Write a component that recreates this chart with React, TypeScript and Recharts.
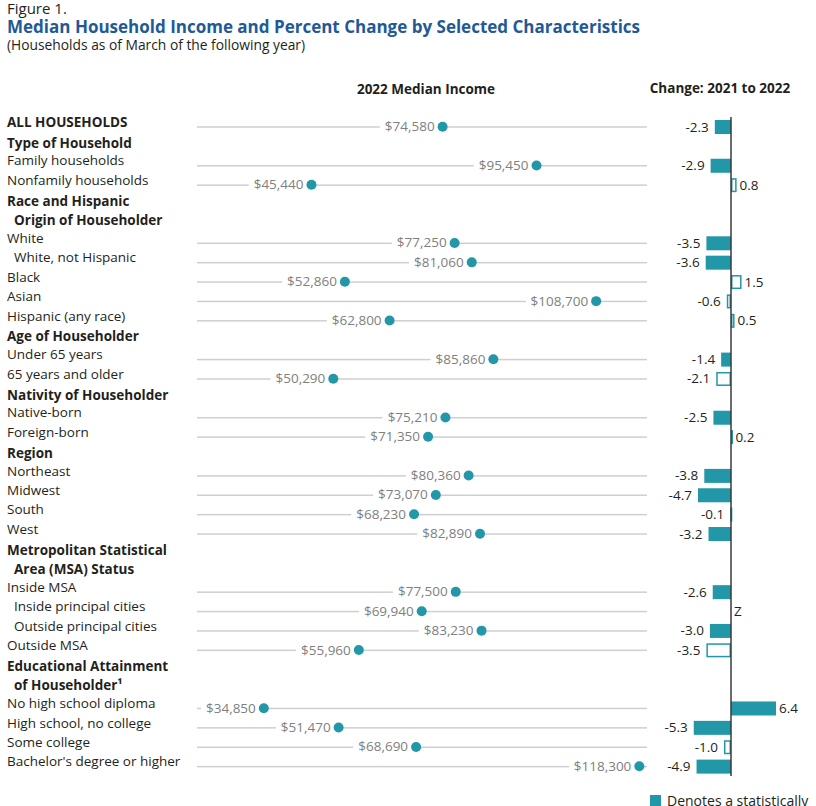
import React from "react";
import { ComposedChart, Bar, Line, XAxis, YAxis, ReferenceLine } from "recharts";

// row labels, top to bottom; kind: h = header, hi = indented header, d = data, db = bold data, di = indented data
const ROWS = [
  "ALL HOUSEHOLDS", "Type of Household", "Family households", "Nonfamily households",
  "Race and Hispanic", "Origin of Householder", "White", "White, not Hispanic", "Black", "Asian",
  "Hispanic (any race)", "Age of Householder", "Under 65 years", "65 years and older",
  "Nativity of Householder", "Native-born", "Foreign-born", "Region", "Northeast", "Midwest",
  "South", "West", "Metropolitan Statistical", "Area (MSA) Status", "Inside MSA",
  "Inside principal cities", "Outside principal cities", "Outside MSA", "Educational Attainment",
  "of Householder\u00b9", "No high school diploma", "High school, no college", "Some college",
  "Bachelor's degree or higher",
];
const KINDS = [
  "db", "h", "d", "d",
  "h", "hi", "d", "di", "d", "d",
  "d", "h", "d", "d",
  "h", "d", "d", "h", "d", "d",
  "d", "d", "h", "hi", "d",
  "di", "di", "d", "h",
  "hi", "d", "d", "d",
  "d",
];
// values for the data rows only, in order
const INCOME = [
  74580, 95450, 45440, 77250, 81060, 52860, 108700, 62800, 85860, 50290, 75210, 71350,
  80360, 73070, 68230, 82890, 77500, 69940, 83230, 55960, 34850, 51470, 68690, 118300,
];
const CHANGE: (number | string)[] = [
  -2.3, -2.9, 0.8, -3.5, -3.6, 1.5, -0.6, 0.5, -1.4, -2.1, -2.5, 0.2,
  -3.8, -4.7, -0.1, -3.2, -2.6, "Z", -3.0, -3.5, 6.4, -5.3, -1.0, -4.9,
];
const SIGNIFICANT = [
  true, true, false, true, true, false, false, false, true, false, true, false,
  true, true, false, true, true, false, true, false, true, true, false, true,
];
const INCOME_TRACK = [20000, 120000];

const TEAL = "#2297a8";
const FONT = "'Open Sans', sans-serif";
const FS = 13.5;
const W = 816;
const H = 806;
const TOP = 117;
const BOTTOM = 30;

const KIND_BY_ROW: Record<string, string> = {};
ROWS.forEach((r, i) => (KIND_BY_ROW[r] = KINDS[i]));

const isHeader = (k: string) => k === "h" || k === "hi";

let di = 0;
const data = ROWS.map((row, i) => {
  if (isHeader(KINDS[i])) return { row };
  const c = CHANGE[di];
  const out = {
    row,
    income: INCOME[di],
    track: INCOME_TRACK,
    change: typeof c === "number" ? c : 0,
    changeLabel: typeof c === "number" ? c.toFixed(1) : c,
    sig: SIGNIFICANT[di],
  };
  di++;
  return out;
});

// income axis: plot starts at x=197, 0.0045 px per dollar
const INC_PLOT_W = W - 16 - 197;
const INC_DOMAIN = [20000, 20000 + INC_PLOT_W / 0.0045];
// change axis: plot 650..800, zero at 731
const PX_PER_PCT = 7.03;
const CHG_DOMAIN = [-(731 - 650) / PX_PER_PCT, (800 - 731) / PX_PER_PCT];

function RowTick(props: any) {
  const { y, payload } = props;
  const kind = KIND_BY_ROW[payload.value];
  const bold = isHeader(kind) || kind === "db";
  const x = kind === "hi" || kind === "di" ? 14 : 7;
  const dy = isHeader(kind) ? 1.5 : 0;
  return (
    <text x={x} y={y + dy} fontSize={FS} fontWeight={bold ? 700 : 400} fill="#231f20" fontFamily={FONT}>
      {payload.value}
    </text>
  );
}

function TrackShape(props: any) {
  const { x, y, width, height } = props;
  if (width == null || !isFinite(width)) return <g />;
  return <rect x={x} y={y + height / 2 - 0.75} width={width} height={1.5} fill="#cfcfcf" />;
}

function IncomeDot(props: any) {
  const { cx, cy, value, index } = props;
  if (value == null || cx == null || cy == null) return <g key={`d${index}`} />;
  const text = "$" + Number(value).toLocaleString("en-US");
  const w = text.length * 7.4;
  return (
    <g key={`d${index}`}>
      <rect x={cx - 11 - w} y={cy - 4} width={w + 11} height={8} fill="#fff" />
      <text x={cx - 8} y={cy + 4.5} textAnchor="end" fontSize={FS} fill="#808080" fontFamily={FONT}>
        {text}
      </text>
      <circle cx={cx} cy={cy} r={5} fill={TEAL} />
    </g>
  );
}

function ChangeShape(props: any) {
  const { x, y, width, height, payload } = props;
  if (payload == null || payload.changeLabel == null) return <g />;
  const left = Math.min(x, x + width);
  const w = Math.abs(width);
  const neg = payload.change < 0;
  const cy = y + height / 2;
  return (
    <g>
      {payload.sig ? (
        <rect x={left} y={y} width={w} height={height} fill={TEAL} />
      ) : w > 0 ? (
        <rect x={left + 0.75} y={y + 0.75} width={Math.max(w - 1.5, 0.5)} height={height - 1.5} fill="#fff" stroke={TEAL} strokeWidth={1.5} />
      ) : null}
      <text
        x={neg ? left - 6 : left + w + 3}
        y={cy + 4.5}
        textAnchor={neg ? "end" : "start"}
        fontSize={FS}
        fill="#231f20"
        fontFamily={FONT}
      >
        {payload.changeLabel}
      </text>
    </g>
  );
}

export default function App() {
  return (
    <div style={{ position: "relative", width: W, height: H, background: "#fff", fontFamily: FONT, overflow: "hidden" }}>
      <style>{`body{margin:0}`}</style>
      <svg width={W} height={H} style={{ position: "absolute", left: 0, top: 0 }}>
        <text x={7} y={14} fontSize={15} fill="#231f20" fontFamily={FONT}>Figure 1.</text>
        <text x={7} y={33} fontSize={17} fontWeight={700} fill="#1f5a96" fontFamily={FONT}>
          Median Household Income and Percent Change by Selected Characteristics
        </text>
        <text x={7} y={49.5} fontSize={13.8} fill="#231f20" fontFamily={FONT}>
          (Households as of March of the following year)
        </text>
        <text x={426} y={93.5} textAnchor="middle" fontSize={FS} fontWeight={700} fill="#231f20" fontFamily={FONT}>
          2022 Median Income
        </text>
        <text x={720} y={92.5} textAnchor="middle" fontSize={FS} fontWeight={700} fill="#231f20" fontFamily={FONT}>
          Change: 2021 to 2022
        </text>
        <rect x={650} y={795} width={11} height={11} fill={TEAL} />
        <text x={667} y={806} fontSize={14} fill="#231f20" fontFamily={FONT}>Denotes a statistically</text>
      </svg>

      <div style={{ position: "absolute", left: 0, top: 0 }}>
        <ComposedChart width={W} height={H} data={data} layout="vertical" margin={{ top: TOP, bottom: BOTTOM, left: 7, right: 16 }}>
          <XAxis type="number" hide domain={INC_DOMAIN} allowDataOverflow />
          <YAxis type="category" dataKey="row" width={190} interval={0} tick={RowTick} tickLine={false} axisLine={false} />
          <Bar dataKey="track" barSize={2} shape={TrackShape} isAnimationActive={false} />
          <Line dataKey="income" stroke="none" dot={IncomeDot} activeDot={false} isAnimationActive={false} />
        </ComposedChart>
      </div>

      <div style={{ position: "absolute", left: 0, top: 0 }}>
        <ComposedChart width={W} height={H} data={data} layout="vertical" margin={{ top: TOP, bottom: BOTTOM, left: 650, right: 16 }}>
          <XAxis type="number" hide domain={CHG_DOMAIN} allowDataOverflow />
          <YAxis type="category" dataKey="row" hide width={0} />
          <Bar dataKey="change" barSize={14} shape={ChangeShape} isAnimationActive={false} />
          <ReferenceLine x={0} stroke="#3a3a3a" strokeWidth={1.5} />
        </ComposedChart>
      </div>
    </div>
  );
}
